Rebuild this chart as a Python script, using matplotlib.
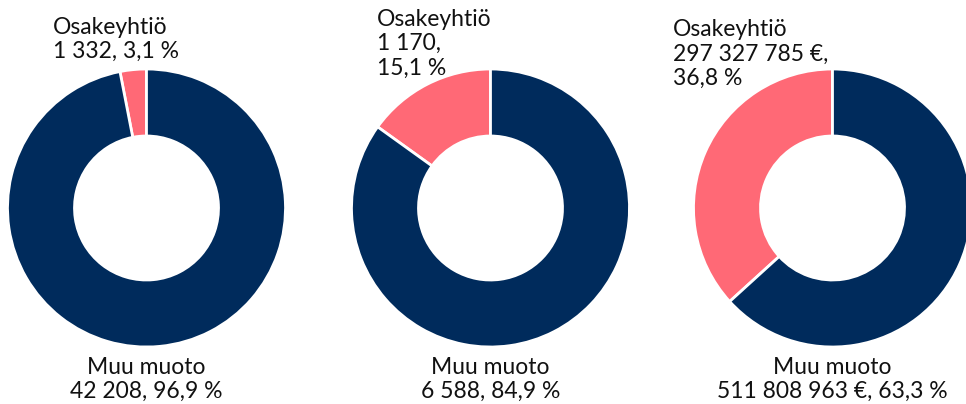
import matplotlib
matplotlib.use("Agg")
import matplotlib.pyplot as plt

plt.rcParams['font.family'] = ['Lato', 'DejaVu Sans']

categories = ["Osakeyhtiö", "Muu muoto"]
counts_1 = [1332, 42208]
pct_1 = [3.1, 96.9]
counts_2 = [1170, 6588]
pct_2 = [15.1, 84.9]
euros_3 = [297327785, 511808963]
pct_3 = [36.8, 63.3]

NAVY = "#002b5c"
PINK = "#ff6976"


def fi_num(v):
    return f"{v:,}".replace(",", " ")


def fi_pct(p):
    return f"{p:.1f}".replace(".", ",") + " %"


top_lines = [
    [categories[0], f"{fi_num(counts_1[0])}, {fi_pct(pct_1[0])}"],
    [categories[0], f"{fi_num(counts_2[0])},", fi_pct(pct_2[0])],
    [categories[0], f"{fi_num(euros_3[0])} €,", fi_pct(pct_3[0])],
]
bottom_lines = [
    [categories[1], f"{fi_num(counts_1[1])}, {fi_pct(pct_1[1])}"],
    [categories[1], f"{fi_num(counts_2[1])}, {fi_pct(pct_2[1])}"],
    [categories[1], f"{fi_num(euros_3[1])} €, {fi_pct(pct_3[1])}"],
]
series = [counts_1, counts_2, euros_3]

W, H = 966, 404
fig = plt.figure(figsize=(W / 100, H / 100), dpi=100)
ax = fig.add_axes([0, 0, 1, 1])

centers_x = [146.5, 490.5, 832.5]
center_y = H - 208
R = 139
ring_w = 67

top_pos = [(53, 34), (377, 26), (673, 36.5)]
line_gap = 24.3
bottom_base = 374
FS = 16.5

for i, vals in enumerate(series):
    ax.pie(vals, colors=[PINK, NAVY], startangle=90, counterclock=True,
           radius=R, center=(centers_x[i], center_y),
           wedgeprops=dict(width=ring_w, edgecolor="white", linewidth=2.0),
           frame=True)
    x0, yb = top_pos[i]
    for j, line in enumerate(top_lines[i]):
        ax.text(x0, H - (yb + j * line_gap), line, ha="left", va="baseline",
                fontsize=FS, color="#111111")
    for j, line in enumerate(bottom_lines[i]):
        ax.text(centers_x[i], H - (bottom_base + j * 23.5), line, ha="center",
                va="baseline", fontsize=FS, color="#111111")

ax.set_xlim(0, W)
ax.set_ylim(0, H)
ax.set_aspect("equal")
ax.axis("off")
fig.savefig("out.png", dpi=100)
